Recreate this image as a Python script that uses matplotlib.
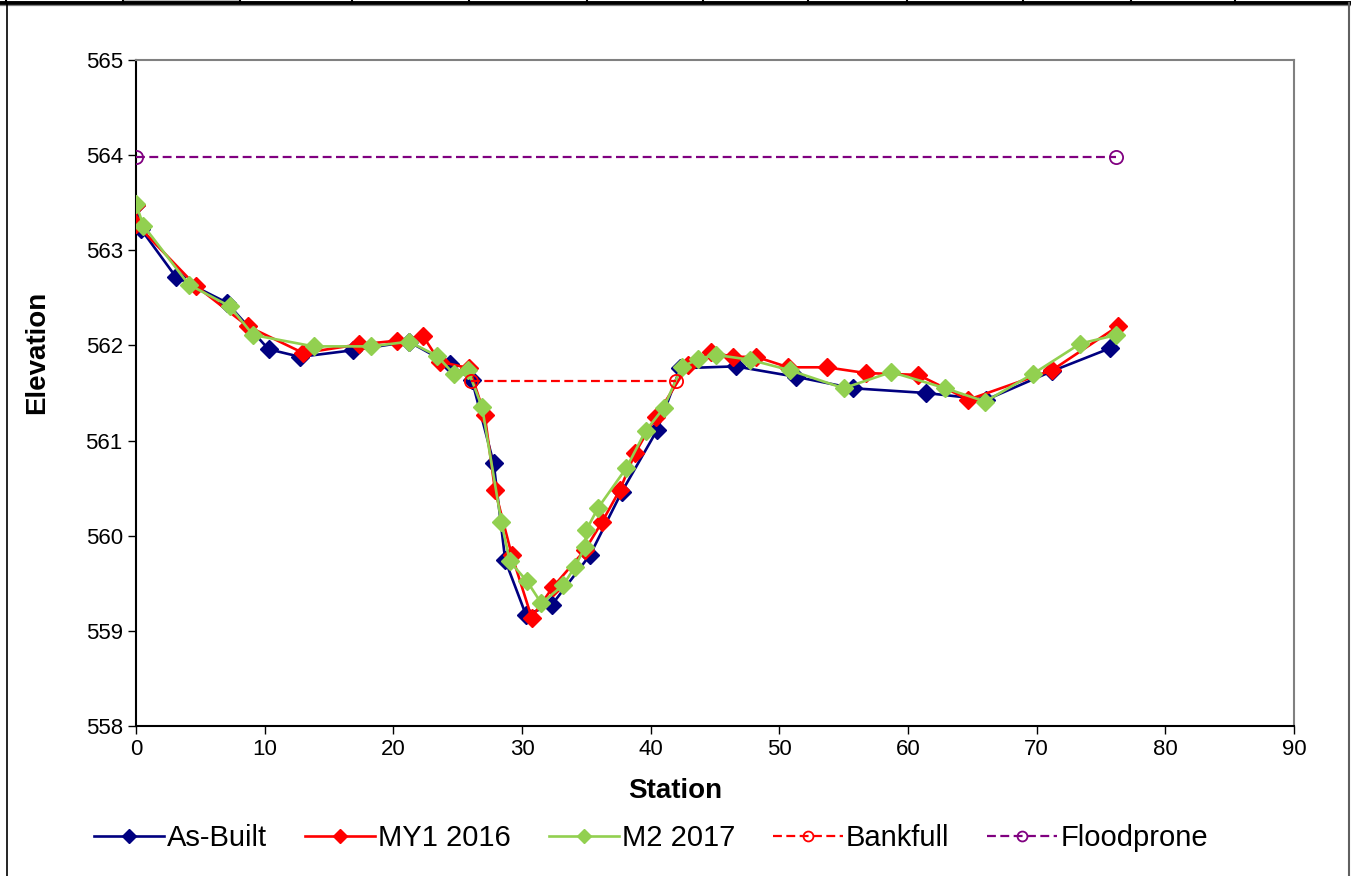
import matplotlib
matplotlib.use("Agg")
import matplotlib.pyplot as plt
from matplotlib.lines import Line2D
from matplotlib.patches import Rectangle

plt.rcParams['font.family'] = ['Liberation Sans', 'DejaVu Sans']

# ---- data ----
asbuilt_x = [0.0, 0.4, 3.1, 7.05, 10.3, 12.75, 16.9, 21.2, 24.4, 26.1, 27.8, 28.7, 30.3, 32.3, 35.3, 37.75, 40.5, 42.3, 46.6, 51.3, 55.7, 61.4, 66.1, 71.2, 75.7]
asbuilt_y = [563.48, 563.22, 562.72, 562.45, 561.96, 561.88, 561.95, 562.04, 561.80, 561.64, 560.76, 559.74, 559.17, 559.27, 559.80, 560.46, 561.11, 561.76, 561.78, 561.67, 561.55, 561.50, 561.43, 561.73, 561.97]

my1_x = [0.0, 0.0, 4.7, 8.7, 13.0, 17.3, 20.3, 22.3, 23.6, 25.9, 27.1, 27.9, 29.2, 30.75, 32.4, 34.9, 36.2, 37.6, 38.8, 40.4, 42.9, 44.7, 46.4, 48.2, 50.7, 53.7, 56.7, 60.8, 64.7, 71.2, 76.3]
my1_y = [563.48, 563.28, 562.62, 562.20, 561.92, 562.01, 562.05, 562.10, 561.83, 561.76, 561.27, 560.48, 559.80, 559.14, 559.46, 559.85, 560.14, 560.48, 560.87, 561.25, 561.79, 561.93, 561.88, 561.88, 561.77, 561.77, 561.71, 561.69, 561.43, 561.74, 562.20]

m2_x = [0.0, 0.57, 4.1, 7.3, 9.1, 13.8, 18.3, 21.2, 23.4, 24.7, 25.8, 26.9, 28.4, 29.05, 30.4, 31.5, 33.2, 34.1, 34.9, 35.0, 35.9, 38.1, 39.6, 41.0, 42.4, 43.7, 45.1, 47.7, 50.8, 55.0, 58.7, 62.9, 66.0, 69.7, 73.4, 76.2]
m2_y = [563.49, 563.26, 562.64, 562.41, 562.11, 561.99, 561.99, 562.04, 561.89, 561.70, 561.74, 561.35, 560.14, 559.73, 559.52, 559.29, 559.48, 559.67, 559.88, 560.06, 560.29, 560.71, 561.10, 561.34, 561.77, 561.86, 561.90, 561.85, 561.74, 561.55, 561.72, 561.55, 561.41, 561.70, 562.02, 562.11]

bankfull_x = [26.0, 42.0]
bankfull_y = [561.63, 561.63]

floodprone_x = [0.0, 76.2]
floodprone_y = [563.98, 563.98]

x_ticks = [0, 10, 20, 30, 40, 50, 60, 70, 80, 90]
y_ticks = [558, 559, 560, 561, 562, 563, 564, 565]

W, H = 1351, 876
fig = plt.figure(figsize=(W / 100, H / 100), dpi=100)
ax = fig.add_axes([136 / W, 1 - 726 / H, (1294 - 136) / W, (726 - 60) / H])


def fx(p):
    return p / W


def fy(p):
    return 1 - p / H


lw = 1.9
ms = 9.5
ax.plot(asbuilt_x, asbuilt_y, color='#000080', lw=lw, marker='D', ms=ms, label='As-Built', zorder=3)
ax.plot(my1_x, my1_y, color='#FF0000', lw=lw, marker='D', ms=ms, label='MY1 2016', zorder=4)
ax.plot(m2_x, m2_y, color='#92D050', lw=lw, marker='D', ms=ms, label='M2 2017', zorder=5)
ax.plot(bankfull_x, bankfull_y, color='#FF0000', lw=1.6, ls=(0, (4, 2)), marker='o', ms=9.5,
        mfc='none', mec='#FF0000', mew=1.3, label='Bankfull', zorder=6)
ax.plot(floodprone_x, floodprone_y, color='#800080', lw=1.6, ls=(0, (4, 2)), marker='o', ms=9.5,
        mfc='none', mec='#800080', mew=1.3, label='Floodprone', zorder=6)

ax.set_xlim(0, 90)
ax.set_ylim(558, 565)
ax.set_xticks(x_ticks)
ax.set_yticks(y_ticks)
ax.tick_params(axis='both', labelsize=16, direction='out', length=6, width=1, color='black')
for s in ['top', 'right']:
    ax.spines[s].set_color('#808080')
    ax.spines[s].set_linewidth(1.5)
for s in ['left', 'bottom']:
    ax.spines[s].set_color('black')
    ax.spines[s].set_linewidth(1.5)

fig.text(fx(675), fy(791), 'Station', fontsize=20, fontweight='bold', ha='center', va='center')
fig.text(fx(37), fy(352), 'Elevation', fontsize=20, fontweight='bold', ha='center', va='center',
         rotation=90)

leg = fig.legend(loc='center', bbox_to_anchor=(fx(651), fy(838)), ncol=5, frameon=False,
                 fontsize=21, handlelength=2.4, handletextpad=0.1, columnspacing=1.3,
                 markerscale=0.75)

# spreadsheet-like border strip at the top and chart area frame
fig.add_artist(Rectangle((fx(123), fy(3)), fx(240) - fx(123), fy(0) - fy(3), transform=fig.transFigure,
                         facecolor='#BDBDBD', edgecolor='none'))
fig.add_artist(Line2D([0, 1], [fy(3), fy(3)], transform=fig.transFigure, color='black', lw=2.8))
fig.add_artist(Line2D([0, 1], [fy(4.8), fy(4.8)], transform=fig.transFigure, color='#808080', lw=0.9))
for px in [6, 123, 240, 352, 469, 587, 703, 808, 907, 1023, 1131, 1235]:
    fig.add_artist(Line2D([fx(px), fx(px)], [fy(0), fy(3)], transform=fig.transFigure, color='black', lw=1.5))
fig.add_artist(Line2D([fx(6.5), fx(6.5)], [fy(3), 0], transform=fig.transFigure, color='black', lw=1.2))
fig.add_artist(Line2D([fx(1348.5), fx(1348.5)], [fy(3), 0], transform=fig.transFigure, color='#606060', lw=1.5))

fig.savefig('out.png', dpi=100)
